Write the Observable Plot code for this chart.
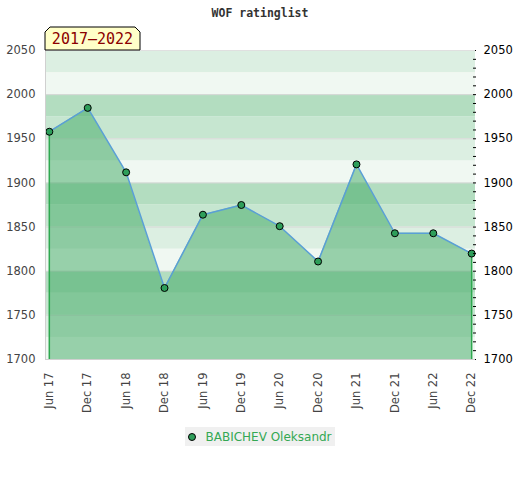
<!DOCTYPE html>
<html>
<head>
<meta charset="utf-8">
<script src="https://cdn.jsdelivr.net/npm/d3@7"></script>
<script src="https://cdn.jsdelivr.net/npm/@observablehq/plot@0.6"></script>
<style>
  body { margin: 0; background: #fff; font-family: "DejaVu Sans", sans-serif; }
  #wrap { width: 520px; position: relative; }
  #title { height: 22px; line-height: 26px; text-align: center; font-family: "DejaVu Sans Mono", monospace; font-weight: bold; font-size: 11.5px; color: #333; }
  #legend { margin: 8px auto 0; width: 150px; height: 19px; background: #f0f0f0; display: flex; align-items: center; justify-content: center; font-size: 12px; color: #34a853; }
  #legend .dot { width: 6px; height: 6px; border-radius: 50%; background: #2e9e5a; border: 1px solid #000; margin-right: 9px; }
</style>
</head>
<body>
<div id="wrap">
  <div id="title">WOF ratinglist</div>
  <div id="chart"></div>
  <div id="legend"><span class="dot"></span>BABICHEV Oleksandr</div>
</div>
<script>
const periods = ["Jun 17","Dec 17","Jun 18","Dec 18","Jun 19","Dec 19","Jun 20","Dec 20","Jun 21","Dec 21","Jun 22","Dec 22"];
const ratings = [1958, 1985, 1912, 1781, 1864, 1875, 1851, 1811, 1921, 1843, 1843, 1820];
const playerName = "BABICHEV Oleksandr";
const rangeLabel = "2017\u20132022";
const yTicks = [1700, 1750, 1800, 1850, 1900, 1950, 2000, 2050];
const yMinorTicks = d3.range(1700, 2051, 10);
const bandEdges = d3.range(1700, 2050, 25);
const bandColors = ["#f0f8f2", "#dcefe2", "#c6e6d0", "#b3ddc0"];

const data = periods.map((p, i) => ({period: p, rating: ratings[i]}));
const bands = bandEdges.map((lo, i) => ({lo, hi: lo + 25, c: bandColors[i % 4]}));
const ends = [data[0], data[data.length - 1]];

const labelBox = (index, scales, values, dims) => {
  const g = d3.create("svg:g");
  const x0 = dims.marginLeft, y1 = dims.marginTop, w = 95, h = 23, c = 5;
  g.append("path")
    .attr("d", `M${x0},${y1}V${y1 - h + c}L${x0 + c},${y1 - h}H${x0 + w - c}L${x0 + w},${y1 - h + c}V${y1}Z`)
    .attr("fill", "#ffffc8").attr("stroke", "#000").attr("stroke-width", 1);
  g.append("text").attr("x", x0 + w / 2).attr("y", y1 - 6).attr("text-anchor", "middle")
    .attr("font-family", "DejaVu Sans Mono, monospace").attr("font-size", 15).attr("fill", "#8b0000")
    .text(rangeLabel);
  return g.node();
};

const chart = Plot.plot({
  width: 520,
  height: 397,
  marginTop: 28,
  marginLeft: 45,
  marginRight: 45,
  marginBottom: 60,
  style: {fontFamily: "DejaVu Sans, sans-serif", fontSize: "11px", background: "#fff"},
  x: {type: "point", domain: periods, padding: 0.1, round: false, label: null},
  y: {domain: [1700, 2050], label: null},
  marks: [
    Plot.rect(bands, {y1: "lo", y2: "hi", fill: "c"}),
    Plot.ruleY(yTicks, {stroke: "#d8d8d8", strokeWidth: 1}),
    Plot.areaY(data, {x: "period", y1: 1700, y2: "rating", fill: "rgb(61,167,98)", fillOpacity: 0.5}),
    Plot.ruleX(ends, {x: "period", y1: 1700, y2: "rating", stroke: "#2ea84f", strokeWidth: 1.5}),
    Plot.line(data, {x: "period", y: "rating", stroke: "#5a9fd6", strokeWidth: 1.5}),
    Plot.dot(data, {x: "period", y: "rating", r: 3.5, fill: "#2e9e5a", stroke: "#000", strokeWidth: 1}),
    Plot.axisY(yTicks, {anchor: "left", tickSize: 0, tickPadding: 10, tickFormat: "d", fill: "#444", fontSize: 11.5}),
    Plot.axisY(yMinorTicks, {anchor: "right", tickSize: 3, dx: -3, text: null, stroke: "#000"}),
    Plot.axisY(yTicks, {anchor: "right", tickSize: 0, tickPadding: 8, tickFormat: "d", fill: "#000", fontSize: 11.5}),
    Plot.axisX({tickRotate: -90, tickSize: 0, tickPadding: 13, fill: "#444", fontSize: 11.5}),
    Plot.ruleY([1700], {stroke: "#d0d0d0"}),
    Plot.ruleY([2050], {stroke: "#e0e0e0"}),
    Plot.frame({anchor: "left", stroke: "#d0d0d0"}),
    labelBox
  ]
});
document.getElementById("chart").appendChild(chart);
</script>
</body>
</html>
